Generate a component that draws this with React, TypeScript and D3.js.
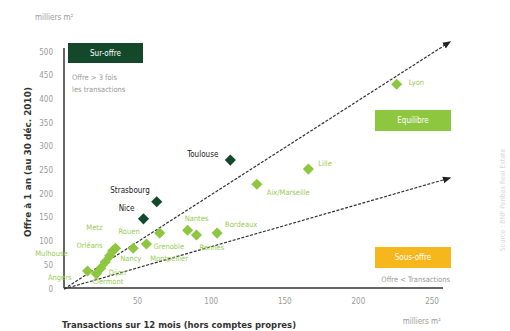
import React from "react";
import * as d3 from "d3";

// ---- data ----
const yTicks = [0, 50, 100, 150, 200, 250, 300, 350, 400, 450, 500];
const xTicks = [50, 100, 150, 200, 250];

const darkCities = ["Toulouse", "Strasbourg", "Nice"];
const darkX = [113, 63, 54];
const darkY = [272, 184, 148];

const lightCities = [
  "Lyon", "Lille", "Aix/Marseille", "Nantes", "Rennes", "Bordeaux",
  "Rouen", "Grenoble", "Montpellier", "Metz", "Orléans", "Mulhouse",
  "Nancy", "Dijon", "Clermont", "Angers",
];
const lightX = [226, 166, 131, 84, 90, 104, 65, 56, 47, 35, 33, 31, 28, 25, 22, 16];
const lightY = [432, 253, 221, 124, 114, 118, 118, 95, 86, 86, 80, 70, 57, 44, 32, 38];

// trend arrows (from origin), in data units
const arrowUpper = [[0, 0], [262, 521]];
const arrowLower = [[0, 0], [262, 234]];

// label layout (pixel offsets from the point): dx, dy, anchor
const darkLabelPos: Record<string, [number, number, string]> = {
  Toulouse: [-12, -6, "end"],
  Strasbourg: [-7, -11, "end"],
  Nice: [-9, -10, "end"],
};
const lightLabelPos: Record<string, [number, number, string]> = {
  Lyon: [12, -2, "start"],
  Lille: [10, -6, "start"],
  "Aix/Marseille": [10, 8, "start"],
  Nantes: [-3, -12, "start"],
  Rennes: [3, 13, "start"],
  Bordeaux: [8, -9, "start"],
  Rouen: [-20, -2, "end"],
  Grenoble: [7, 3, "start"],
  Montpellier: [17, 10, "start"],
  Metz: [-13, -21, "end"],
  "Orléans": [-10, -6, "end"],
  Mulhouse: [-42, -2, "end"],
  Nancy: [15, -3, "start"],
  Dijon: [8, 4, "start"],
  Clermont: [-4, 8, "start"],
  Angers: [-16, 7, "end"],
};

const W = 510;
const H = 331;
const DARK = "#13482b";
const LIGHT = "#8dc63f";
const LIGHT_TXT = "#99cc55";
const YELLOW = "#f6b71c";
const GRAY = "#9a9a9a";
const FONT = "'Liberation Sans Narrow', 'DejaVu Sans Condensed', 'Liberation Sans', sans-serif";

export default function App() {
  const x = d3.scaleLinear().domain([0, 250]).range([64, 432]);
  const y = d3.scaleLinear().domain([0, 500]).range([289, 52]);
  const diamond = d3.symbol().type(d3.symbolSquare).size(62)();
  const line = d3
    .line<number[]>()
    .x((d) => x(d[0]))
    .y((d) => y(d[1]));

  const x0 = x(0);
  const y0 = y(0) - 1;

  return (
    <svg
      width={W}
      height={H}
      style={{ position: "absolute", left: 0, top: 0, background: "#fff" }}
      fontFamily={FONT}
    >
      <defs>
        <marker id="arr" viewBox="0 0 10 10" refX="8" refY="5" markerWidth="7" markerHeight="7" orient="auto">
          <path d="M0,1 L10,5 L0,9 z" fill="#222" />
        </marker>
      </defs>
      <rect width={W} height={H} fill="#fff" />

      {/* unit labels */}
      <text x={35} y={20} fontSize={8} fill={GRAY}>milliers m²</text>
      <text x={441} y={324} fontSize={8} fill={GRAY} textAnchor="end">milliers m²</text>

      {/* axis titles */}
      <text
        x={62}
        y={328}
        fontSize={9}
        fontWeight="bold"
        fill="#333"
        textLength={234}
        lengthAdjust="spacingAndGlyphs"
      >
        Transactions sur 12 mois (hors comptes propres)
      </text>
      <text
        transform={`translate(28,${162}) rotate(-90)`}
        fontSize={9}
        fontWeight="bold"
        fill="#333"
        textAnchor="middle"
        dominantBaseline="central"
        textLength={150}
        lengthAdjust="spacingAndGlyphs"
      >
        Offre à 1 an (au 30 déc. 2010)
      </text>

      {/* y ticks */}
      {yTicks.map((t) => (
        <text key={t} x={53} y={y(t)} fontSize={8} fill={GRAY} textAnchor="end" dominantBaseline="central">
          {t}
        </text>
      ))}
      {/* x ticks */}
      {xTicks.map((t) => (
        <text key={t} x={x(t)} y={301} fontSize={8} fill={GRAY} textAnchor="middle" dominantBaseline="central">
          {t}
        </text>
      ))}

      {/* axes */}
      <line x1={x0} x2={x0} y1={48} y2={y0} stroke="#333" strokeWidth={1.5} />
      <line x1={x0} x2={443} y1={y0} y2={y0} stroke="#333" strokeWidth={1.5} />

      {/* zone boxes */}
      <rect x={68} y={43} width={75} height={20} fill={DARK} />
      <text x={105.5} y={53} fontSize={8} fill="#fff" textAnchor="middle" dominantBaseline="central">Sur-offre</text>
      <text x={72} y={77} fontSize={7.5} fill={GRAY} dominantBaseline="central">Offre &gt; 3 fois</text>
      <text x={72} y={89} fontSize={7.5} fill={GRAY} dominantBaseline="central">les transactions</text>

      <rect x={375} y={110} width={76} height={21} fill={LIGHT} />
      <text x={413} y={120.5} fontSize={8} fill="#fff" textAnchor="middle" dominantBaseline="central">Equilibre</text>

      <rect x={375} y={247} width={76} height={21} fill={YELLOW} />
      <text x={413} y={257.5} fontSize={8} fill="#fff" textAnchor="middle" dominantBaseline="central">Sous-offre</text>
      <text x={450} y={279} fontSize={7.5} fill={GRAY} textAnchor="end" dominantBaseline="central">Offre &lt; Transactions</text>

      {/* arrows */}
      <path d={line(arrowUpper as any) || ""} stroke="#333" strokeWidth={1.2} strokeDasharray="3,1.5" fill="none" markerEnd="url(#arr)" />
      <path d={line(arrowLower as any) || ""} stroke="#333" strokeWidth={1.2} strokeDasharray="3,1.5" fill="none" markerEnd="url(#arr)" />

      {/* light points */}
      {lightCities.map((c, i) => (
        <path key={c} d={diamond} transform={`translate(${x(lightX[i])},${y(lightY[i])}) rotate(45)`} fill={LIGHT} />
      ))}
      {lightCities.map((c, i) => {
        const [dx, dy, anchor] = lightLabelPos[c];
        return (
          <text
            key={"l" + c}
            x={x(lightX[i]) + dx}
            y={y(lightY[i]) + dy}
            fontSize={7.5}
            fill={LIGHT_TXT}
            textAnchor={anchor as any}
            dominantBaseline="central"
          >
            {c}
          </text>
        );
      })}

      {/* dark points */}
      {darkCities.map((c, i) => (
        <path key={c} d={diamond} transform={`translate(${x(darkX[i])},${y(darkY[i])}) rotate(45)`} fill={DARK} />
      ))}
      {darkCities.map((c, i) => {
        const [dx, dy, anchor] = darkLabelPos[c];
        return (
          <text
            key={"d" + c}
            x={x(darkX[i]) + dx}
            y={y(darkY[i]) + dy}
            fontSize={8}
            fill="#1a1a1a"
            textAnchor={anchor as any}
            dominantBaseline="central"
          >
            {c}
          </text>
        );
      })}

      {/* faint cropped source text at right edge */}
      <text
        transform="translate(503,200) rotate(-90)"
        fontSize={7}
        fill="#d8d8d8"
        textAnchor="middle"
        dominantBaseline="central"
      >
        Source : BNP Paribas Real Estate
      </text>
    </svg>
  );
}
